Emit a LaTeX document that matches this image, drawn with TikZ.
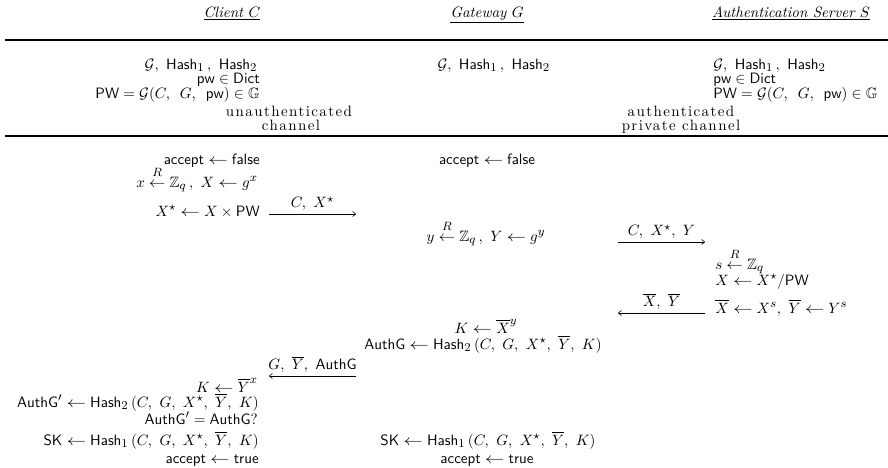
\documentclass[tikz,border=0pt]{standalone}
\usepackage{amsmath}
\usepackage{amssymb}
\usepackage{fontspec}
\usetikzlibrary{arrows.meta, positioning}

\DeclareMathSizes{10}{10}{8.5}{6.5}
\newfontfamily\chanfont{lmroman10-regular}[Extension=.otf, LetterSpace=9.5]
\newcommand{\hashf}[1]{\mathsf{Hash}_{#1}\,}
\newcommand{\barX}{\overline{X}}
\newcommand{\barY}{\overline{Y}}
\newcommand{\asgn}{\mathrel{\scalebox{1.3}[1]{$\leftarrow$}}}
\newcommand{\rnd}{\mathrel{\overset{\raisebox{1.2pt}{$\scriptstyle R$}}{\scalebox{1.1}[1]{$\leftarrow$}}}}

\begin{document}
\begin{tikzpicture} [
    x=0.667pt, y=-0.667pt,
    client/.style={anchor=base east, inner sep=0pt},
    gate/.style={anchor=base, inner sep=0pt},
    server/.style={anchor=base west, inner sep=0pt},
    party/.style={anchor=base, inner sep=0pt, font=\itshape},
    channel/.style={anchor=base, inner sep=0pt, font=\chanfont},
    rule/.style={draw, line width=1.6pt},
    msg/.style={draw, -{To[length=2.4pt, width=3.6pt]}, line width=0.4pt},
    msglabel/.style={midway, above=2pt, inner sep=0pt}
]
    \useasboundingbox (0,0) rectangle (888,467);

    % Parties
    \node[party] (client) at (232,17) {\underline{Client $C$}};
    \node[party] (gateway) at (487,17) {\underline{Gateway $G$}};
    \node[party] (server) at (791,17) {\underline{Authentication Server $S$}};

    % Rules
    \path[rule] (5,40) -- (888,40);
    \path[rule] (5,136) -- (888,136);

    % Setup
    \node[client] (c_hash) at (260,69) {$\mathcal{G},\ \hashf{1},\ \hashf{2}$};
    \node[client] (c_pw) at (260,83) {$\mathsf{pw} \in \mathsf{Dict}$};
    \node[client] (c_PW) at (260,98) {$\mathsf{PW} = \mathcal{G}(C,\ \,G,\ \,\mathsf{pw}) \in \mathbb{G}$};
    \node[gate] (g_hash) at (495,69) {$\mathcal{G},\ \hashf{1},\ \hashf{2}$};
    \node[server] (s_hash) at (713,69) {$\mathcal{G},\ \hashf{1},\ \hashf{2}$};
    \node[server] (s_pw) at (713,83) {$\mathsf{pw} \in \mathsf{Dict}$};
    \node[server] (s_PW) at (713,98) {$\mathsf{PW} = \mathcal{G}(C,\ \,G,\ \,\mathsf{pw}) \in \mathbb{G}$};

    % Channels
    \node[channel] (cg_ch1) at (289,116) {unauthenticated};
    \node[channel] (cg_ch2) at (291,130) {channel};
    \node[channel] (gs_ch1) at (681,116) {authenticated};
    \node[channel] (gs_ch2) at (681,130) {private channel};

    % Client, first flow
    \node[client] (c_acc) at (260,164) {$\mathsf{accept} \asgn \mathsf{false}$};
    \node[client] (c_x) at (258,187) {$x \rnd \mathbb{Z}_q\,,\ X \asgn g^x$};
    \node[client] (c_Xs) at (260,216) {$X^\star \asgn X \times \mathsf{PW}$};

    % Gateway
    \node[gate] (g_acc) at (487,164) {$\mathsf{accept} \asgn \mathsf{false}$};
    \node[gate] (g_y) at (486,241) {$y \rnd \mathbb{Z}_q\,,\ Y \asgn g^y$};

    % Server
    \node[server] (s_s) at (715,269) {$s \rnd \mathbb{Z}_q$};
    \node[server] (s_X) at (715,285) {$X \asgn X^\star / \mathsf{PW}$};
    \node[server] (s_bar) at (715,313) {$\barX \asgn X^s,\ \barY \asgn Y^s$};

    % Gateway, key
    \node[gate] (g_K) at (486,333) {$K \asgn \barX^y$};
    \node[gate] (g_auth) at (483,349) {$\mathsf{AuthG} \asgn \hashf{2}(C,\ G,\ X^\star,\ \barY,\ K)$};

    % Client, key and check
    \node[client] (c_K) at (258,392) {$K \asgn \barY^x$};
    \node[client] (c_auth) at (259,407) {$\mathsf{AuthG}' \asgn \hashf{2}(C,\ G,\ X^\star,\ \barY,\ K)$};
    \node[client] (c_chk) at (258,424) {$\mathsf{AuthG}' = \mathsf{AuthG}?$};
    \node[client] (c_SK) at (259,445) {$\mathsf{SK} \asgn \hashf{1}(C,\ G,\ X^\star,\ \barY,\ K)$};
    \node[client] (c_end) at (259,463) {$\mathsf{accept} \asgn \mathsf{true}$};
    \node[gate] (g_SK) at (488,445) {$\mathsf{SK} \asgn \hashf{1}(C,\ G,\ X^\star,\ \barY,\ K)$};
    \node[gate] (g_end) at (487,463) {$\mathsf{accept} \asgn \mathsf{true}$};

    % Message ends
    \coordinate (m1a) at (269,214);
    \coordinate (m1b) at (356,214);
    \coordinate (m2a) at (618,242);
    \coordinate (m2b) at (705,242);
    \coordinate (m3a) at (705,313);
    \coordinate (m3b) at (618,313);
    \coordinate (m4a) at (356,376);
    \coordinate (m4b) at (269,376);

    % Messages
    \path [msg] (m1a) -- node[msglabel] {$C,\ X^\star$} (m1b);
    \path [msg] (m2a) -- node[msglabel] {$C,\ X^\star,\ Y$} (m2b);
    \path [msg] (m3a) -- node[msglabel] {$\barX,\ \barY$} (m3b);
    \path [msg] (m4a) -- node[msglabel] {$G,\ \barY,\ \mathsf{AuthG}$} (m4b);

\end{tikzpicture}
\end{document}
